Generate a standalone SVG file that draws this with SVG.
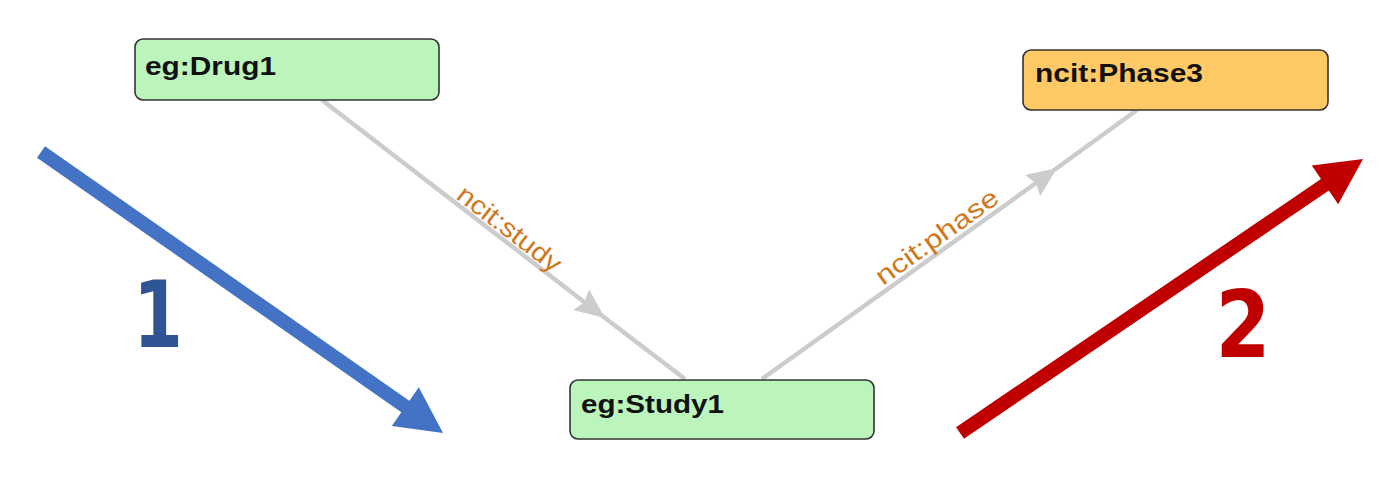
<svg xmlns="http://www.w3.org/2000/svg" width="1392" height="484" viewBox="0 0 1392 484">
<style>
.node rect{stroke:#333;stroke-width:1.6}
.green rect{fill:#BBF5BB}
.orange rect{fill:#FFC966}
.node text{font-family:"Liberation Sans",Arial,sans-serif;font-weight:bold;font-size:25px;fill:#111}
.edge{fill:none;stroke:#CCCCCC;stroke-width:4.5}
.elabel{font-family:"Liberation Sans",Arial,sans-serif;font-size:26px;fill:#D07820}
.num{font-family:"DejaVu Sans",sans-serif;font-weight:bold;font-size:93px;text-anchor:middle}
</style>
<defs>
<marker id="ah" viewBox="0 0 30 26" refX="30" refY="13" markerWidth="30" markerHeight="26" markerUnits="userSpaceOnUse" orient="auto">
<path d="M0,0 L30,13 L0,26 L4,13 Z" fill="#CCCCCC"/>
</marker>
</defs>
<g id="connectors">
<path class="edge" d="M322,100 L605,318 L685,379" marker-mid="url(#ah)"/>
<path class="edge" d="M762,379 L1057,168 L1137,110" marker-mid="url(#ah)"/>
<text class="elabel" x="0" y="0" textLength="124" lengthAdjust="spacingAndGlyphs" transform="translate(455,198) rotate(37.55)">ncit:study</text>
<text class="elabel" x="0" y="0" textLength="145" lengthAdjust="spacingAndGlyphs" transform="translate(883,286) rotate(-35.65)">ncit:phase</text>
</g>
<g id="drug1" class="node green">
<rect x="135" y="39" width="304" height="61" rx="8"/>
<text x="145" y="75" textLength="131" lengthAdjust="spacingAndGlyphs">eg:Drug1</text>
</g>
<g id="phase3" class="node orange">
<rect x="1023" y="50" width="305" height="60" rx="8"/>
<text x="1035" y="82" textLength="168" lengthAdjust="spacingAndGlyphs">ncit:Phase3</text>
</g>
<g id="study1" class="node green">
<rect x="570" y="380" width="304" height="59" rx="8"/>
<text x="581" y="413" textLength="143" lengthAdjust="spacingAndGlyphs">eg:Study1</text>
</g>
<g id="step1">
<line x1="41" y1="152" x2="406" y2="407" stroke="#4472C4" stroke-width="14"/>
<polygon points="443,433 418.8,387.3 391.8,425.9" fill="#4472C4"/>
<text class="num" x="158" y="347" fill="#2F5597" textLength="50" lengthAdjust="spacingAndGlyphs">1</text>
</g>
<g id="step2">
<line x1="960" y1="433" x2="1326" y2="184" stroke="#C00000" stroke-width="14"/>
<polygon points="1363,159 1338.2,204.3 1311.8,165.5" fill="#C00000"/>
<text class="num" x="1243" y="357" fill="#C00000" textLength="55" lengthAdjust="spacingAndGlyphs">2</text>
</g>
</svg>
